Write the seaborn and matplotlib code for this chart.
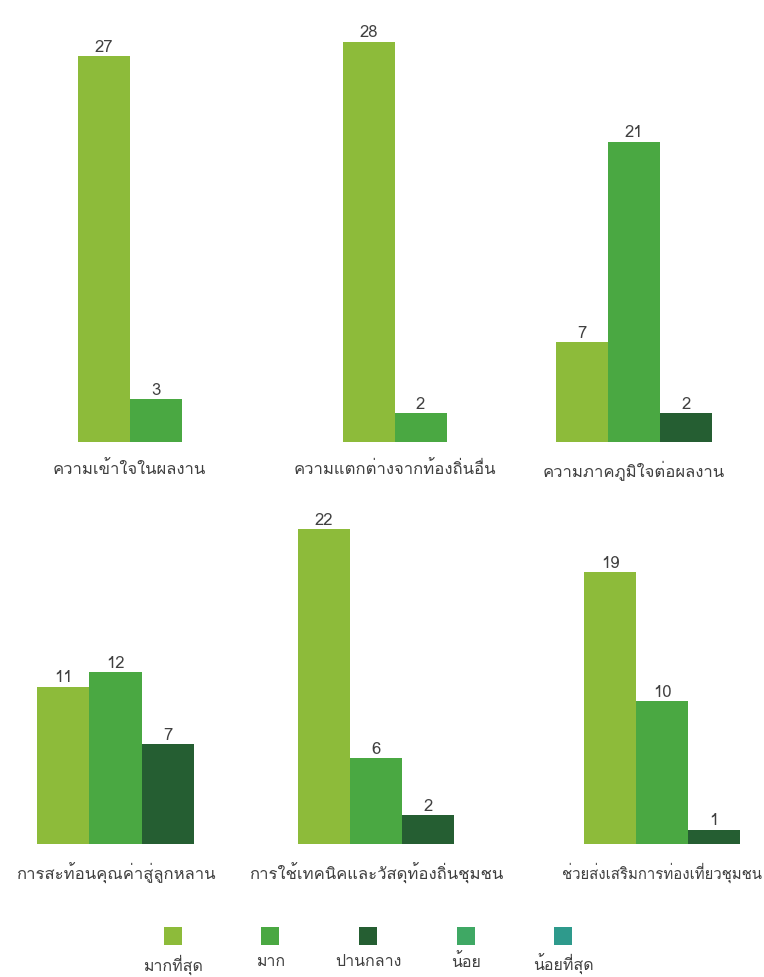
import pandas as pd
import seaborn as sns
import matplotlib.pyplot as plt
from matplotlib import font_manager
from matplotlib.ft2font import FT2Font

# Datos
niveles = ["มากที่สุด", "มาก", "ปานกลาง", "น้อย", "น้อยที่สุด"]
temas = [
    "ความเข้าใจในผลงาน",
    "ความแตกต่างจากท้องถิ่นอื่น",
    "ความภาคภูมิใจต่อผลงาน",
    "การสะท้อนคุณค่าสู่ลูกหลาน",
    "การใช้เทคนิคและวัสดุท้องถิ่นชุมชน",
    "ช่วยส่งเสริมการท่องเที่ยวชุมชน",
]
mas_alto = [27, 28, 7, 11, 22, 19]
alto = [3, 2, 21, 12, 6, 10]
medio = [0, 0, 2, 7, 2, 1]
bajo = [0, 0, 0, 0, 0, 0]
mas_bajo = [0, 0, 0, 0, 0, 0]

colores = ["#8dbb3a", "#4aa842", "#255e32", "#3fa864", "#2e9a8c"]
paleta = dict(zip(niveles, colores))

filas = []
for i, tema in enumerate(temas):
    for nivel, serie in zip(niveles, [mas_alto, alto, medio, bajo, mas_bajo]):
        filas.append({"tema": tema, "nivel": nivel, "valor": serie[i]})
df = pd.DataFrame(filas)

# Buscar una fuente que tenga glifos tailandeses
fuente_thai = None
for f in sorted(font_manager.fontManager.ttflist, key=lambda f: (f.weight != 400, f.style != "normal")):
    try:
        if FT2Font(f.fname).get_char_index(ord("ก")):
            fuente_thai = f.name
            break
    except Exception:
        pass

sns.set_style("white")
plt.rcParams["font.family"] = [fuente_thai, "DejaVu Sans"] if fuente_thai else ["DejaVu Sans"]

W, H = 764, 978
fig = plt.figure(figsize=(W / 100, H / 100), dpi=100)
render = fig.canvas.get_renderer()

# posición de cada panel (centro x, línea base y) en píxeles
centros = [129.5, 394.5, 634, 115.5, 376, 662]
bases = [443, 443, 443, 845, 845, 845]
ancho_ax, ymax, px_unidad, ancho_barra = 250, 30, 14.3, 52

for i, tema in enumerate(temas):
    sub = df[(df["tema"] == tema) & (df["valor"] > 0)]
    orden = [n for n in niveles if n in set(sub["nivel"])]
    alto_ax = ymax * px_unidad
    ax = fig.add_axes([(centros[i] - ancho_ax / 2) / W, (H - bases[i]) / H,
                       ancho_ax / W, alto_ax / H])
    ax.patch.set_alpha(0)
    sns.barplot(data=sub, x="nivel", y="valor", hue="nivel", order=orden,
                palette=paleta, saturation=1, width=1.0, linewidth=0,
                legend=False, ax=ax)
    n = len(orden)
    media = ancho_ax / ancho_barra / 2
    ax.set_xlim((n - 1) / 2 - media, (n - 1) / 2 + media)
    ax.set_ylim(0, ymax)
    for cont in ax.containers:
        ax.bar_label(cont, fmt="%d", padding=1, fontsize=12, color="#404040")
    ax.set_xticks([])
    ax.set_yticks([])
    ax.set_ylabel("")
    etiqueta = ax.set_xlabel(tema, fontsize=12, color="#404040", labelpad=13)
    # achicar la etiqueta si se sale de la figura
    tam = 12
    while tam > 8:
        caja = etiqueta.get_window_extent(render)
        if caja.x0 >= 2 and caja.x1 <= W - 2:
            break
        tam -= 0.25
        etiqueta.set_fontsize(tam)
    sns.despine(ax=ax, left=True, bottom=True)

# Leyenda: cuadros con el texto debajo
ax_ley = fig.add_axes([124 / W, (H - 946) / H, 488 / W, 18 / H])
ax_ley.patch.set_alpha(0)
ley = pd.DataFrame({"nivel": niveles, "y": [0] * len(niveles)})
sns.scatterplot(data=ley, x="nivel", y="y", hue="nivel", palette=paleta,
                marker="s", s=165, linewidth=0, legend=False, ax=ax_ley)
ax_ley.set_xlim(-0.5, 4.5)
ax_ley.set_ylim(-1, 1)
ax_ley.set_yticks([])
ax_ley.tick_params(axis="x", length=0, pad=6, labelsize=11.5, labelcolor="#404040")
ax_ley.set_xlabel("")
ax_ley.set_ylabel("")
sns.despine(ax=ax_ley, left=True, bottom=True)

fig.savefig("out.png", dpi=100)
